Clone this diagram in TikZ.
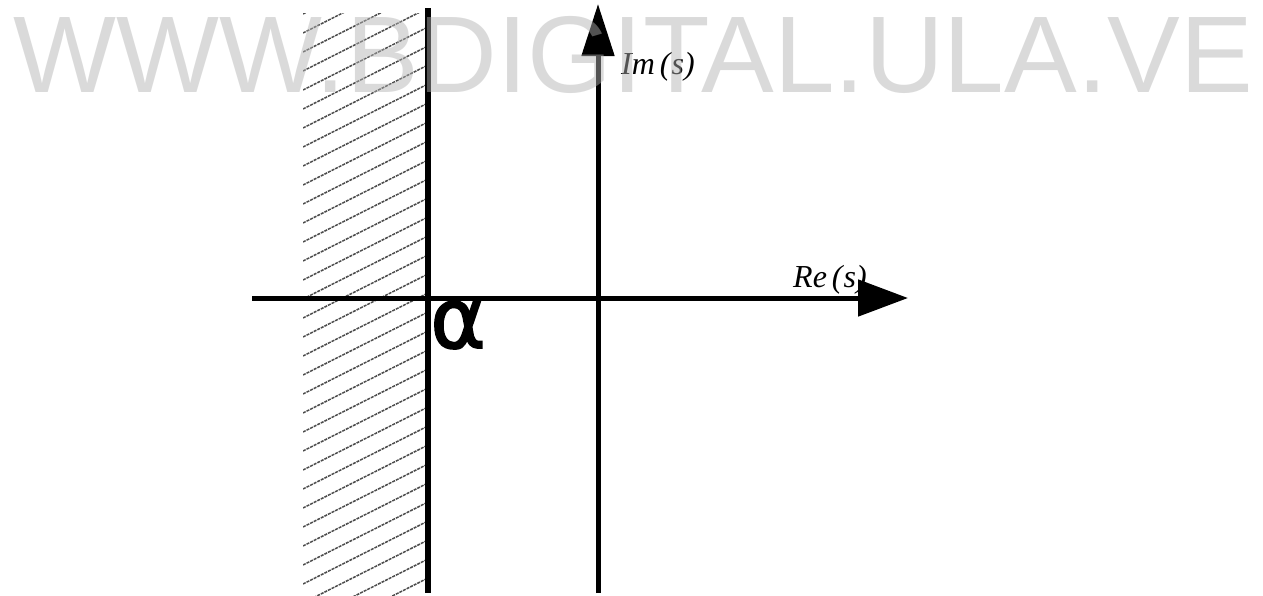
\documentclass[tikz,border=0pt]{standalone}
\usepackage{fontspec}
\setmainfont{Liberation Serif}
\newfontfamily\wmfont{Liberation Sans}
\newfontfamily\alfont[FakeBold=2]{DejaVu Sans}
\usetikzlibrary{arrows.meta}
\begin{document}
\begin{tikzpicture}[x=1pt,y=-1pt,
  axis/.style={line width=5pt,black},
  hatchline/.style={line width=1.5pt,black!70,dash pattern=on 3pt off 1pt},
  lbl/.style={font=\fontsize{32}{32}\selectfont\itshape,inner sep=0pt,anchor=base west},
  wm/.style={font=\fontsize{109}{109}\selectfont\wmfont,text=black!30,opacity=0.47,inner sep=0pt,anchor=base}]
\useasboundingbox (0,0) rectangle (1263,595);
\fill[white] (0,0) rectangle (1263,595);
% hatch
\begin{scope}
\clip (303,13) rectangle (425,595);
\foreach \y in {14,33,...,680}{
  \draw[hatchline] (303,\y) -- (426,\y-62);
}
\end{scope}
% coordinates
\coordinate (hl) at (252,298);
\coordinate (hr) at (908,298);
\coordinate (vb) at (598,593);
\coordinate (vt) at (598,4);
\coordinate (lt) at (428,8);
\coordinate (lb) at (428,593);
% axes
\draw[axis,-{Triangle[length=50pt,width=36pt]}] (hl) -- (hr);
\draw[axis,-{Triangle[length=52pt,width=32pt]}] (vb) -- (vt);
\draw[line width=6pt] (lt) -- (lb);
% labels
\node[lbl] (im) at (621,74) {Im\hspace{5pt}(\hspace{1pt}s)};
\node[lbl] (re) at (793,287) {Re\hspace{5pt}(\hspace{1pt}s)};
\node[inner sep=0pt,font=\fontsize{84}{84}\selectfont\alfont] (al) at (458,325) {α};
% watermark
\node[wm] (wmk) at (633,92) {WWW.BDIGITAL.ULA.VE};
\end{tikzpicture}
\end{document}
